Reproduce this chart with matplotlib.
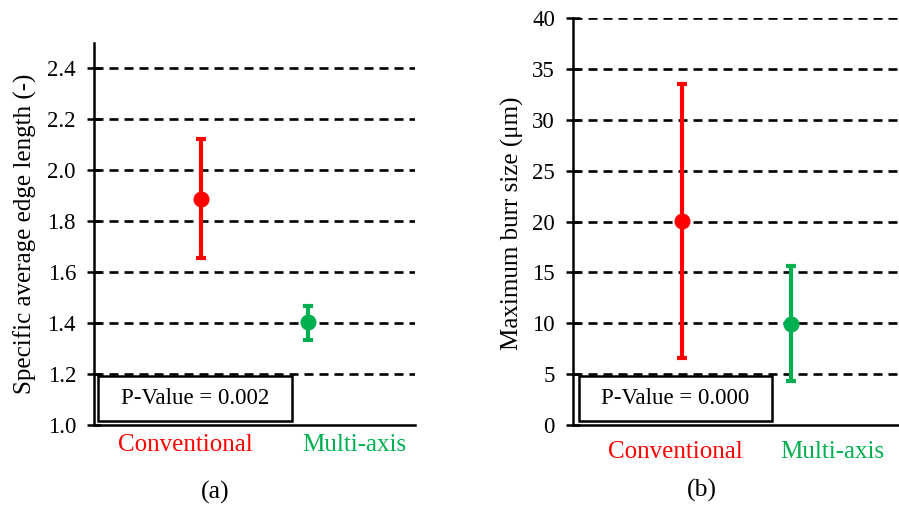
import matplotlib
matplotlib.use("Agg")
import matplotlib.pyplot as plt
from matplotlib.patches import Rectangle

plt.rcParams['font.family'] = ['Liberation Serif', 'DejaVu Serif']
plt.rcParams['lines.scale_dashes'] = False

# ---- data ----
categories = ["Conventional", "Multi-axis"]
cat_colors = ["#FF0000", "#00B050"]

edge_mean = [1.885, 1.403]
edge_low = [1.654, 1.335]
edge_high = [2.123, 1.467]
edge_ticks = [1.0, 1.2, 1.4, 1.6, 1.8, 2.0, 2.2, 2.4]
edge_pvalue = "P-Value = 0.002"
edge_ylabel = "Specific average edge length (-)"

burr_mean = [20.05, 9.95]
burr_low = [6.55, 4.3]
burr_high = [33.5, 15.6]
burr_ticks = [0, 5, 10, 15, 20, 25, 30, 35, 40]
burr_pvalue = "P-Value = 0.000"
burr_ylabel = "Maximum burr size (\u03bcm)"

W, H = 899, 508
fig = plt.figure(figsize=(W / 100, H / 100), dpi=100)


def px_ax(l, r, b, t):
    return fig.add_axes([l / W, 1 - b / H, (r - l) / W, (b - t) / H])


def draw(ax, means, lows, highs, ticks, ylim, pval, label_pos, label_y, box):
    xs = [1, 2]
    ax.set_xlim(0, 3)
    ax.set_ylim(*ylim)
    for t in ticks[1:]:
        ax.axhline(t, color="black", lw=1.9, ls=(0, (6.5, 4.3)), zorder=1)
    for x, m, lo, hi, c in zip(xs, means, lows, highs, cat_colors):
        ax.errorbar([x], [m], yerr=[[m - lo], [hi - m]], fmt="o", color=c,
                    ms=10.5, elinewidth=3, capsize=3.6, capthick=3, zorder=3)
    for sp in ["top", "right"]:
        ax.spines[sp].set_visible(False)
    for sp in ["left", "bottom"]:
        ax.spines[sp].set_linewidth(1.8)
    ax.set_yticks(ticks)
    ax.set_yticklabels([("%.1f" % t) if isinstance(t, float) else str(t) for t in ticks],
                       fontsize=16.5)
    ax.tick_params(axis="y", direction="inout", length=10, width=1.8, pad=8)
    ax.set_xticks([])
    for name, c, xp in zip(categories, cat_colors, label_pos):
        ax.text(xp, label_y, name, color=c, fontsize=18, ha="center", va="center",
                transform=ax.get_xaxis_transform(), clip_on=False)
    x0, x1, y0, y1 = box
    ax.add_patch(Rectangle((x0, y0), x1 - x0, y1 - y0, transform=ax.transAxes,
                           facecolor="white", edgecolor="black", lw=1.8, zorder=4))
    ax.text((x0 + x1) / 2, (y0 + y1) / 2, pval, transform=ax.transAxes,
            fontsize=16.5, ha="center", va="center", zorder=5)


ax1 = px_ax(94, 415, 425, 42.5)
draw(ax1, edge_mean, edge_low, edge_high, edge_ticks, (1.0, 2.5), edge_pvalue,
     [0.85, 2.43], -0.052, (0.012, 0.617, 0.0105, 0.128))

ax2 = px_ax(573, 900, 425, 18)
draw(ax2, burr_mean, burr_low, burr_high, burr_ticks, (0, 40), burr_pvalue,
     [0.94, 2.38], -0.066, (0.018, 0.609, 0.0098, 0.120))

fig.text(25 / W, 1 - 234 / H, edge_ylabel, rotation=90, fontsize=18,
         ha="center", va="center")
fig.text(512 / W, 1 - 223 / H, burr_ylabel, rotation=90, fontsize=18,
         ha="center", va="center")
fig.text(215 / W, 1 - 492 / H, "(a)", fontsize=18.5, ha="center", va="center")
fig.text(702 / W, 1 - 490 / H, "(b)", fontsize=18.5, ha="center", va="center")

fig.savefig("out.png", dpi=100)
